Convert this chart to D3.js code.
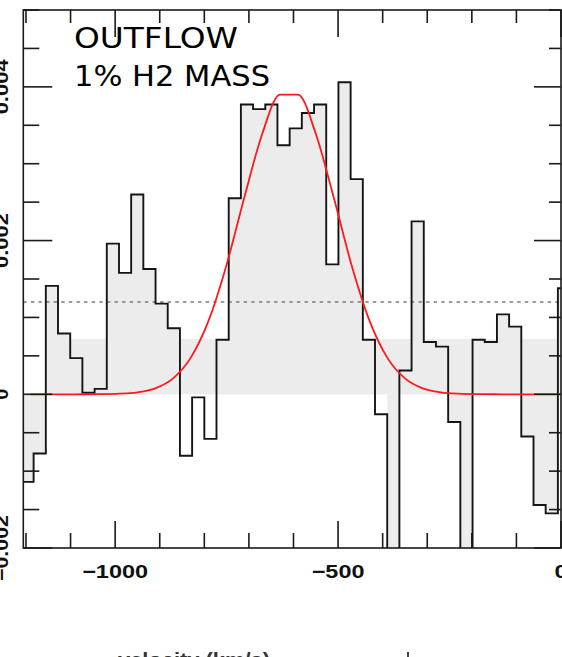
<!DOCTYPE html>
<html><head><meta charset="utf-8">
<script src="https://cdn.jsdelivr.net/npm/d3@7"></script>
<style>body{margin:0;background:#fff;overflow:hidden}svg{display:block}</style>
</head><body>
<svg id="c" width="562" height="657"></svg>
<script>
// ---- data ----
const binCenters = [-1196.5,-1169.2,-1141.8,-1114.5,-1087.1,-1059.8,-1032.4,-1005.1,-977.7,-950.4,
  -923.1,-895.7,-868.4,-841.0,-813.7,-786.3,-759.0,-731.6,-704.3,-676.9,
  -649.6,-622.3,-594.9,-567.6,-540.2,-512.9,-485.5,-458.2,-430.8,-403.5,
  -376.1,-348.8,-321.5,-294.1,-266.8,-239.4,-212.1,-184.7,-157.4,-130.0,
  -102.7,-75.4,-48.0,-20.7,6.7];
// outline spectrum
const fluxValues = [-0.00114,-0.00077,0.00141,0.00079,0.00047,0.00002,0.00007,0.00196,0.00158,0.0026,
  0.00163,0.00118,0.00086,-0.0008,-0.00004,-0.00058,0.00071,0.00255,0.00377,0.00371,
  0.00377,0.00324,0.00346,0.00366,0.00377,0.00169,0.00406,0.0028,0.00071,-0.00026,
  -0.0028,0.00031,0.00225,0.00068,0.00062,-0.00036,-0.0027,0.00071,0.00068,0.00104,
  0.00088,-0.00055,-0.00144,-0.00155,0.00138];
// grey-filled spectrum (as seen in the picture)
const fillValues = [-0.00114,-0.00077,0.00141,0.00079,0.00047,0.00002,0.00007,0.00196,0.00158,0.0026,
  0.00163,0.00118,0.00086,0,0,0,0.00071,0.00255,0.00377,0.00371,
  0.00377,0.00324,0.00346,0.00366,0.00377,0.00169,0.00406,0.0028,0.00071,0,
  -0.0028,0.00031,0.00225,0.00068,0.00062,-0.00036,-0.0027,0.00071,0.00068,0.00104,
  0.00088,-0.00055,-0.00144,-0.00155,0.00138];
const binWidth = 27.35;
// grey band above zero
const bandStart = -1154, bandEnd = 0, bandLevel = 0.00072;
const modelVelocity = [-1190,-1150,-1110,-1070,-1030,-990,-950,-910,-870,-830,-790,-750,-710,-670,-630,
  -590,-550,-510,-470,-430,-390,-350,-310,-270,-230,-190,-150,-110,-70,-30,10];
const modelFlux = [0,0,0,0.0000004,0.0000018,0.0000073,0.0000255,0.000078,0.000207,0.00048,0.000965,
  0.001687,0.002567,0.00339,0.0039,0.0039,0.00339,0.002567,0.001687,0.000965,0.00048,0.000207,
  0.000078,0.0000255,0.0000073,0.0000018,0.0000004,0,0,0,0];
const thresholdLevel = 0.0012;
const xTickValues = [-1000,-500,0];
const xTickLabels = ["\u22121000","\u2212500","0"];
const yTickValues = [0.004,0.002,0,-0.002];
const yTickLabels = ["0.004","0.002","0","\u22120.002"];
const titleLines = ["OUTFLOW","1% H2 MASS"];
const xAxisTitle = "velocity (km/s)";

// ---- layout ----
const L = 23.3, R = 561, T = 10, B = 548;
const svg = d3.select("#c");
const x = d3.scaleLinear().domain([-1206, 0]).range([L, R]);
const y = d3.scaleLinear().domain([-0.002, 0.005]).range([B, T]);

svg.append("defs").append("clipPath").attr("id","pc")
  .append("rect").attr("x",L).attr("y",T).attr("width",R-L).attr("height",B-T);
const g = svg.append("g").attr("clip-path","url(#pc)");

function steps(vals){
  const p = binCenters.map((c,i)=>[c-binWidth/2, vals[i]]);
  p.push([binCenters[binCenters.length-1]+binWidth/2, vals[vals.length-1]]);
  return p;
}
const stepPts = steps(fluxValues);
const fillPts = steps(fillValues);

g.append("rect").attr("x",x(bandStart)).attr("width",x(bandEnd)-x(bandStart))
  .attr("y",y(bandLevel)).attr("height",y(0)-y(bandLevel)).attr("fill","#ececec");
g.append("path")
  .attr("d", d3.area().curve(d3.curveStepAfter)
    .x(d=>x(d[0])).y0(y(0)).y1(d=>y(d[1]))(fillPts))
  .attr("fill","#ececec");

g.append("line").attr("x1",L).attr("x2",R)
  .attr("y1",y(thresholdLevel)).attr("y2",y(thresholdLevel))
  .attr("stroke","#7a7a7a").attr("stroke-width",1.6).attr("stroke-dasharray","3.4,4.2");

g.append("path")
  .attr("d", d3.line().curve(d3.curveStepAfter).x(d=>x(d[0])).y(d=>y(d[1]))(stepPts))
  .attr("fill","none").attr("stroke","#151515").attr("stroke-width",1.9);

g.append("path")
  .attr("d", d3.line().curve(d3.curveMonotoneX).x((d,i)=>x(modelVelocity[i])).y(d=>y(d))(modelFlux))
  .attr("fill","none").attr("stroke","#ff1a1a").attr("stroke-width",1.8);

// ---- frame and ticks ----
const ax = svg.append("g").attr("stroke","#1a1a1a").attr("stroke-width",1.6).attr("fill","none");
ax.append("rect").attr("x",L).attr("y",T).attr("width",R-L).attr("height",B-T);
x.ticks(12).forEach(v=>{
  const major = xTickValues.includes(v);
  ax.append("line").attr("x1",x(v)).attr("x2",x(v)).attr("y1",T).attr("y2",T+(major?27:13));
  ax.append("line").attr("x1",x(v)).attr("x2",x(v)).attr("y1",B).attr("y2",B-(major?27:15));
});
d3.range(-4,11).map(k=>k*0.0005).forEach(v=>{
  const major = yTickValues.some(t=>Math.abs(t-v)<1e-9);
  ax.append("line").attr("x1",L).attr("x2",L+(major?29:16)).attr("y1",y(v)).attr("y2",y(v));
  ax.append("line").attr("x1",R).attr("x2",R-(major?27:12)).attr("y1",y(v)).attr("y2",y(v));
});

// ---- tick labels ----
const lab = svg.append("g").attr("font-family","Liberation Sans, Arial, sans-serif")
  .attr("font-weight","bold").attr("fill","#111");
xTickValues.forEach((v,i)=>{
  const t = xTickLabels[i];
  lab.append("text").attr("x",x(v)).attr("y",577.5).attr("text-anchor","middle")
    .attr("font-size",19).attr("textLength", t.length*13.2).attr("lengthAdjust","spacingAndGlyphs").text(t);
});
yTickValues.forEach((v,i)=>{
  const t = yTickLabels[i];
  lab.append("text").attr("transform",`translate(8,${y(v)}) rotate(-90)`)
    .attr("text-anchor","middle").attr("font-size",19)
    .attr("textLength", t.length*11).attr("lengthAdjust","spacingAndGlyphs").text(t);
});

// ---- title ----
const tt = svg.append("g").attr("font-family","DejaVu Sans, sans-serif").attr("fill","#000").attr("font-size",28);
tt.append("text").attr("x",74).attr("y",48).attr("textLength",164).attr("lengthAdjust","spacingAndGlyphs").text(titleLines[0]);
tt.append("text").attr("x",74).attr("y",86).attr("textLength",196).attr("lengthAdjust","spacingAndGlyphs").text(titleLines[1]);

// ---- partially visible axis title & stray tick below ----
svg.append("text").attr("x",118).attr("y",667).attr("font-family","Liberation Sans, Arial, sans-serif")
  .attr("font-weight","bold").attr("font-size",20).attr("fill","#333")
  .attr("textLength",152).attr("lengthAdjust","spacingAndGlyphs").text(xAxisTitle);
svg.append("line").attr("x1",408).attr("x2",408).attr("y1",652).attr("y2",657)
  .attr("stroke","#444").attr("stroke-width",2);
</script>
</body></html>
